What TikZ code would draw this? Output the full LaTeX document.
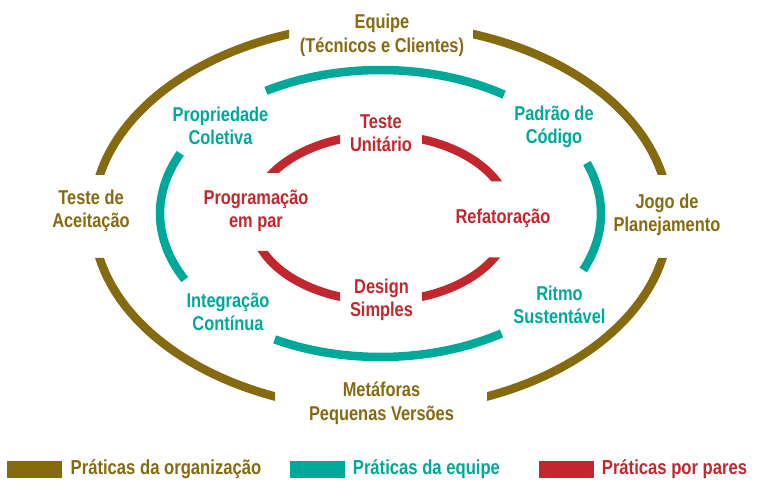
\documentclass[tikz,border=0pt]{standalone}
\usepackage{fontspec}
\setmainfont{Liberation Sans}[FakeStretch=0.82]
\usepackage{xcolor}
\usepackage{tikz}
\usetikzlibrary{calc}
\usetikzlibrary{positioning}
\definecolor{orgbrown}{HTML}{866A10}
\definecolor{equipeteal}{HTML}{00A89A}
\definecolor{parred}{HTML}{C1272D}

\begin{document}
\begin{tikzpicture}[x=1pt, y=1pt]

                \def\w{8.5pt}
                \def\g{8pt}

                % Styles for the rings, the labels and the legend
                \tikzset{ring/.style={line width=\w, line cap=butt},
                         lbl/.style={align=center, inner sep=0pt,
                           font=\bfseries\fontsize{20}{23.5}\selectfont},
                         legbar/.style={minimum width=55, minimum height=16.5,
                           inner sep=0pt},
                         legtxt/.style={inner sep=0pt,
                           font=\bfseries\fontsize{20.3}{22}\selectfont}}

                \useasboundingbox (0,0) rectangle (764,487);

                % Outer ring: the gaps are cut straight
                \begin{scope}[even odd rule]
                    \clip (0,0) rectangle (764,487)
                        (289,420) rectangle (473,487)
                        (275,57) rectangle (487,117)
                        (30,229) rectangle (140,312)
                        (620,229) rectangle (720,312);
                    \draw[ring, orgbrown] (381,270) ellipse [x radius=288, y radius=193];
                \end{scope}

                % Middle ring
                \coordinate (tc) at (380.5,273.5);
                \begin{scope}[ring, equipeteal]
                    \draw (tc) ++(55.9:220.5 and 143.5)
                        arc[start angle=55.9, end angle=121.3, x radius=220.5, y radius=143.5];
                    \draw (tc) ++(155.2:220.5 and 143.5)
                        arc[start angle=155.2, end angle=207.4, x radius=220.5, y radius=143.5];
                    \draw (tc) ++(241.3:220.5 and 143.5)
                        arc[start angle=241.3, end angle=303.3, x radius=220.5, y radius=143.5];
                    \draw (tc) ++(336.8:220.5 and 143.5)
                        arc[start angle=336.8, end angle=380.6, x radius=220.5, y radius=143.5];
                \end{scope}

                % Inner ring
                \begin{scope}[even odd rule]
                    \clip (0,0) rectangle (764,487)
                        (340,322) rectangle (422,377)
                        (340,167) rectangle (422,217)
                        (230,236) rectangle (300,314)
                        (460,229.5) rectangle (530,305.5);
                    \draw[ring, parred] (381,269) ellipse [x radius=129, y radius=83];
                \end{scope}

                % Labels
                \begin{scope}[lbl]
                    \node[orgbrown] (equipe) at (382,451.5)
                    {Equipe\\(Técnicos e Clientes)};
                    \node[orgbrown] (aceitacao) at (91,276)
                    {Teste de\\Aceitação};
                    \node[orgbrown] (jogo) at (667,272)
                    {Jogo de\\Planejamento};
                    \node[orgbrown] (metaforas) at (381.5,84)
                    {Metáforas\\Pequenas Versões};
                    \node[equipeteal] (propriedade) at (220.5,361)
                    {Propriedade\\Coletiva};
                    \node[equipeteal] (padrao) at (554,360)
                    {Padrão de\\Código};
                    \node[equipeteal] (integracao) at (228,175)
                    {Integração\\Contínua};
                    \node[equipeteal] (ritmo) at (559.5,182)
                    {Ritmo\\Sustentável};
                    \node[parred] (unitario) at (381,354)
                    {Teste\\Unitário};
                    \node[parred] (programacao) at (256,276)
                    {Programação\\em par};
                    \node[parred] (refatoracao) at (503,269)
                    {Refatoração};
                    \node[parred] (design) at (381.5,187)
                    {Design\\Simples};
                \end{scope}

                % Legend
                \node[legbar, fill=orgbrown] (orgbar) at (34.8,17.6) {};
                \node[legtxt, orgbrown, right=\g of orgbar]
                {Práticas da organização};
                \node[legbar, fill=equipeteal] (equipebar) at (317,17.6) {};
                \node[legtxt, equipeteal, right=\g of equipebar]
                {Práticas da equipe};
                \node[legbar, fill=parred] (parbar) at (566,17.6) {};
                \node[legtxt, parred, right=\g of parbar]
                {Práticas por pares};

\end{tikzpicture}
\end{document}
